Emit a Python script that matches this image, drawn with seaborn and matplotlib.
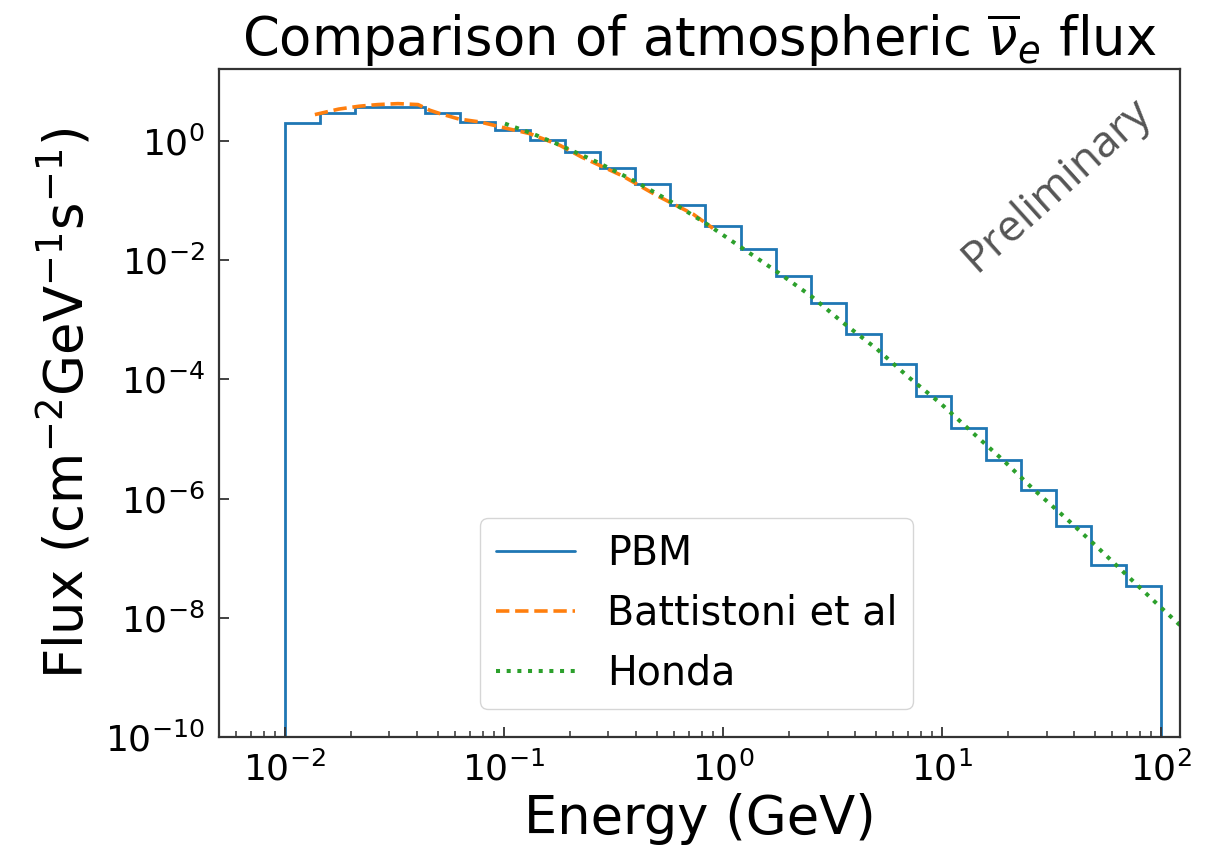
import numpy as np
import matplotlib
matplotlib.use("Agg")
import matplotlib.pyplot as plt
from matplotlib.ticker import LogLocator, LogFormatterSciNotation, NullLocator
import seaborn as sns

# PBM histogram: 25 log-spaced bins between 1e-2 and 1e2 GeV
pbm_edges = np.logspace(-2, 2, 26)
pbm_flux = [2.0, 2.9, 3.75, 3.75, 2.9, 2.07, 1.54, 1.05, 0.65, 0.35,
            0.19, 0.083, 0.037, 0.0155, 0.0055, 0.0019, 5.8e-4, 1.78e-4,
            5.2e-5, 1.54e-5, 4.5e-6, 1.37e-6, 3.4e-7, 7.8e-8, 3.4e-8]

# Battistoni et al (dashed)
batt_energy = [0.0137, 0.0176, 0.0218, 0.0266, 0.0328, 0.0405, 0.0459, 0.051,
               0.0622, 0.0776, 0.104, 0.131, 0.18, 0.227, 0.346, 0.50, 0.73, 0.90]
batt_flux = [2.75, 3.4, 3.8, 4.05, 4.2, 4.05, 3.25, 2.86,
             2.32, 2.07, 1.6, 1.32, 0.84, 0.53, 0.26, 0.12, 0.059, 0.034]

# Honda (dotted)
honda_energy = [0.101, 0.134, 0.177, 0.266, 0.396, 0.585, 0.845, 1.22, 1.77,
                2.52, 3.53, 5.05, 7.0, 9.8, 13.7, 19.0, 26.3, 36.5, 50.5, 70.0,
                96.0, 122.0]
honda_flux = [1.94, 1.33, 0.87, 0.44, 0.21, 0.093, 0.040, 0.016, 0.0063,
              0.0025, 8.9e-4, 3.2e-4, 1.1e-4, 4.0e-5, 1.3e-5, 4.4e-6, 1.4e-6,
              4.8e-7, 1.6e-7, 5.1e-8, 1.7e-8, 7.5e-9]

sns.set_style("ticks")
plt.rcParams.update({
    "font.family": ["DejaVu Sans"],
    "mathtext.fontset": "dejavusans",
    "text.color": "black",
    "axes.labelcolor": "black",
    "xtick.labelcolor": "black",
    "ytick.labelcolor": "black",
})

fig = plt.figure(figsize=(12.14, 8.52), dpi=100)
ax = fig.add_axes([219 / 1214, 1 - 737 / 852, (1180 - 219) / 1214, (737 - 69) / 852])

blue, orange, green = "#1f77b4", "#ff7f0e", "#2ca02c"

ax.stairs(pbm_flux, pbm_edges, baseline=1e-12, color=blue, lw=2.0, label="PBM")
# one value per energy: no aggregation, no error band
sns.lineplot(x=batt_energy, y=batt_flux, ax=ax, color=orange, lw=2.6,
             linestyle="--", label="Battistoni et al", estimator=None,
             errorbar=None, sort=False)
sns.lineplot(x=honda_energy, y=honda_flux, ax=ax, color=green, lw=2.9,
             linestyle=":", label="Honda", estimator=None,
             errorbar=None, sort=False)

ax.set_xscale("log")
ax.set_yscale("log")
ax.set_xlim(5.0e-3, 122)
ax.set_ylim(1e-10, 16)
ax.set_yticks([1e-10, 1e-8, 1e-6, 1e-4, 1e-2, 1e0])
ax.yaxis.set_minor_locator(NullLocator())

# x ticks at 1..9 x 10^n, labels only on the decades
ax.xaxis.set_major_locator(LogLocator(base=10.0, subs=np.arange(1, 10), numticks=100))
ax.xaxis.set_major_formatter(LogFormatterSciNotation(labelOnlyBase=True))
ax.xaxis.set_minor_locator(NullLocator())

for sp in ax.spines.values():
    sp.set_color("#333333")
    sp.set_linewidth(1.6)

ax.set_title(r"Comparison of atmospheric $\overline{\nu}_e$ flux", fontsize=38,
             pad=8, color="black")
ax.set_xlabel("Energy (GeV)", fontsize=38, labelpad=4)
ax.set_ylabel(r"Flux (cm$^{-2}$GeV$^{-1}$s$^{-1}$)", fontsize=38, labelpad=8)

ax.text(0.872, 0.826, "Preliminary", transform=ax.transAxes, rotation=42,
        fontsize=32, color="#555555", ha="center", va="center",
        family=["Open Sans", "DejaVu Sans"])

leg = ax.legend(loc="lower center", fontsize=28.5, frameon=True,
                bbox_to_anchor=(0.497, 0.012))
leg.get_frame().set_edgecolor("#cccccc")

ax.set_axisbelow(False)
ax.tick_params(axis="both", which="major", direction="in", length=7, width=1.3,
               labelsize=26, color="#333333", pad=10)

# shorter marks for the non-decade ticks
fig.canvas.draw()
for tick, loc in zip(ax.xaxis.get_major_ticks(), ax.xaxis.get_majorticklocs()):
    lg = np.log10(loc)
    if not np.isclose(lg, np.round(lg)):
        tick.tick1line.set_markersize(4.5)
        tick.tick1line.set_markeredgewidth(1.1)

fig.savefig("out.png", dpi=100)
